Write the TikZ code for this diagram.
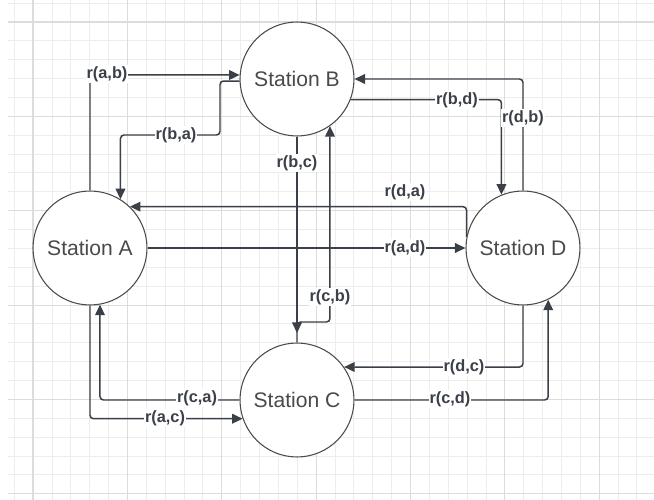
\documentclass[tikz,border=0pt]{standalone}
\usepackage{fontspec}
\setmainfont{Liberation Sans}
\usetikzlibrary{arrows.meta}
\pgfdeclarelayer{grid}
\pgfdeclarelayer{lines}
\pgfsetlayers{grid,lines,main}
\definecolor{gridminor}{HTML}{EDEDED}
\definecolor{gridmajor}{HTML}{DCDCDC}
\definecolor{linegray}{HTML}{3A3F48}
\definecolor{textgray}{HTML}{4A4A4A}
\tikzset{
  station/.style={circle, draw=textgray, line width=0.6pt, fill=white, minimum size=2.28cm, inner sep=0pt, text=textgray, font=\fontsize{12}{14}\selectfont},
  flow/.style={draw=linegray, line width=0.85pt, rounded corners=2pt, -{Triangle[length=6pt,width=5.5pt]}},
  rate/.style={fill=white, inner sep=0.6pt, text=linegray, font=\bfseries\fontsize{9.3}{11}\selectfont},
}

\begin{document}
\begin{tikzpicture}[x=0.02cm, y=0.02cm]
  \useasboundingbox (0,0) rectangle (654,-500);
  % grid
  \begin{pgfonlayer}{grid}
    \fill[white] (0,0) rectangle (654,-500);
    \foreach \i in {0,...,33}
      \draw[gridminor, line width=0.5pt] (14.2+18.87*\i,0) -- (14.2+18.87*\i,-500);
    \foreach \j in {0,...,26}
      \draw[gridminor, line width=0.5pt] (8,-3.1-18.87*\j) -- (654,-3.1-18.87*\j);
    \foreach \i in {0,...,6}
      \draw[gridmajor, line width=0.6pt] (33+94.35*\i,0) -- (33+94.35*\i,-500);
    \foreach \j in {0,...,5}
      \draw[gridmajor, line width=0.6pt] (8,-22-94.35*\j) -- (654,-22-94.35*\j);
  \end{pgfonlayer}

  % stations
  \node[station] (A) at (90,-248) {Station A};
  \node[station] (B) at (297,-79) {Station B};
  \node[station] (C) at (297,-400) {Station C};
  \node[station] (D) at (523,-248) {Station D};
  \coordinate (bc-end) at (297,-333);

  % flows
  \begin{pgfonlayer}{lines}
    \draw[flow] (A.north) |- (B.176);
    \draw[flow] (B.182) -| (220,-135) -| (A.58);
    \draw[flow] (B.south) -- (bc-end);
    \draw[flow] (C.north) -- (297,-322) -| (B.305);
    \draw[flow] (B.-21) -| (D.112);
    \draw[flow] (D.north) |- (B.east);
    \draw[flow] (D.169) |- (A.46);
    \draw[flow] (A.east) -- (D.west);
    \draw[flow] (C.west) -| (A.280);
    \draw[flow] (A.south) |- (C.199);
    \draw[flow] (D.south) |- (C.35);
    \draw[flow] (C.east) -| (D.296);
  \end{pgfonlayer}

  % rates
  \node[rate] (ab) at (107,-74) {r(a,b)};
  \node[rate] (ba) at (176,-135) {r(b,a)};
  \node[rate] (bc) at (297,-163) {r(b,c)};
  \node[rate] (cb) at (330,-297) {r(c,b)};
  \node[rate] (bd) at (457,-100) {r(b,d)};
  \node[rate] (db) at (523,-118) {r(d,b)};
  \node[rate] (da) at (405,-192) {r(d,a)};
  \node[rate] (ad) at (405,-248) {r(a,d)};
  \node[rate] (ca) at (197,-398) {r(c,a)};
  \node[rate] (ac) at (165,-418) {r(a,c)};
  \node[rate] (dc) at (464,-367) {r(d,c)};
  \node[rate] (cd) at (450,-399) {r(c,d)};
\end{tikzpicture}
\end{document}
